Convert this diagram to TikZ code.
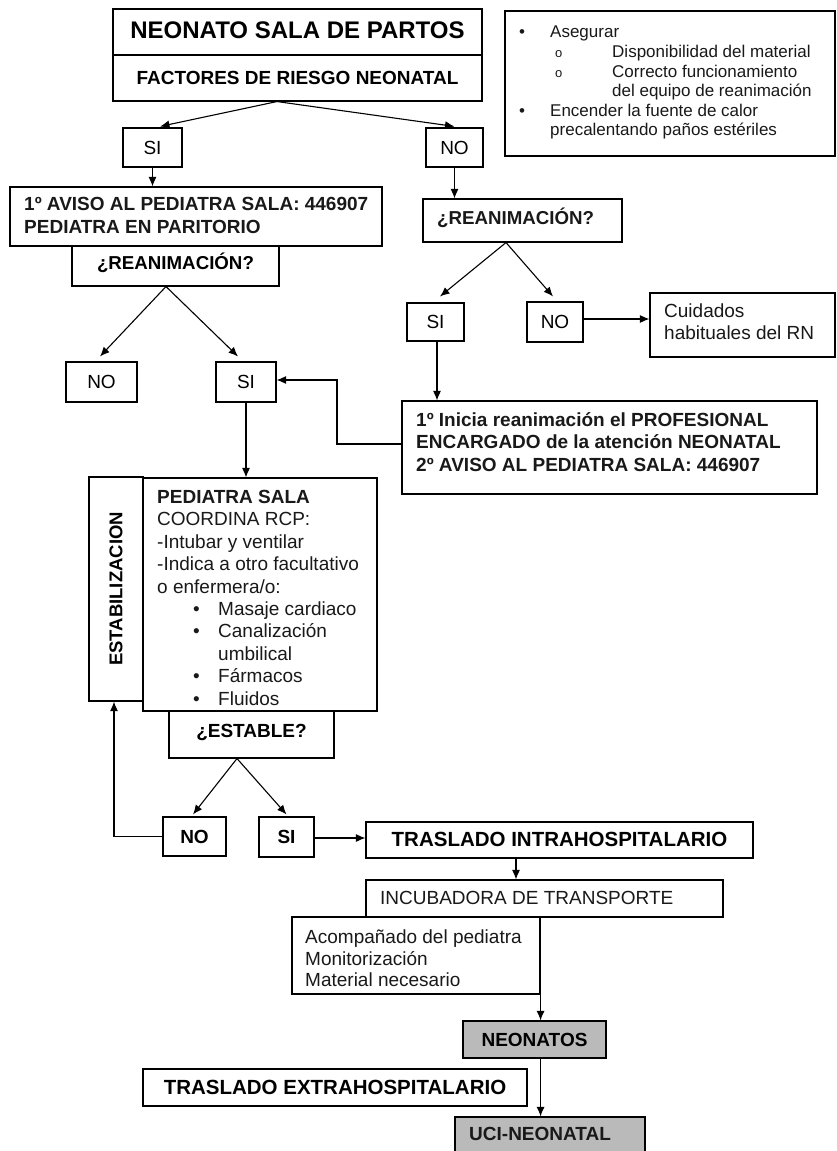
\documentclass[tikz,border=0pt]{standalone}
\usepackage{fontspec}
\setmainfont{Liberation Sans}
\usetikzlibrary{arrows.meta,calc}
\begin{document}
\begin{tikzpicture}[x=1pt,y=-1pt,
  bx/.style n args={2}{draw=black, line width=1.1pt, inner sep=0pt, minimum width=#1, minimum height=#2},
  capc/.style={text height=13.6pt, text depth=0pt},
  reg/.style={font=\fontsize{19}{22}\selectfont},
  bld/.style={font=\fontsize{19}{22}\selectfont\bfseries},
  txt/.style={inner sep=0pt, align=left, text=black!90},
  gr/.style={fill=black!27},
  arr/.style={-{Latex[length=9.5pt,width=8pt]}, line width=1.1pt}]
\useasboundingbox (0,0) rectangle (836,1151);
\fill[white] (0,0) rectangle (836,1151);
\clip (0,0) rectangle (836,1151);

% top
\node[bx={369pt}{46pt}, capc, font=\fontsize{24}{28}\selectfont\bfseries] (top) at (297.5,32) {NEONATO SALA DE PARTOS};
\node[bx={369pt}{46pt}, capc, bld] (risk) at (297.5,78) {FACTORES DE RIESGO NEONATAL};

% note box
\node[bx={330pt}{145pt}] (note) at (670,83.5) {};
\node[txt, anchor=north west, font=\fontsize{17}{19.6}\selectfont] (notetxt) at (519,26) {%
\makebox[31pt][l]{•}Asegurar\\
\hspace*{36pt}\makebox[57pt][l]{\fontsize{13}{13}\selectfont o}Disponibilidad del material\\
\hspace*{36pt}\makebox[57pt][l]{\fontsize{13}{13}\selectfont o}Correcto funcionamiento\\
\hspace*{93pt}del equipo de reanimación\\
\makebox[31pt][l]{•}Encender la fuente de calor\\
\hspace*{31pt}precalentando paños estériles};

% first decision
\node[bx={59pt}{39pt}, capc, reg] (si1) at (152.5,147.5) {SI};
\node[bx={57pt}{39pt}, capc, reg] (no1) at (454.5,147.5) {NO};

% left branch
\node[bx={372pt}{59pt}] (aviso) at (196,216.5) {};
\node[txt, anchor=north west, font=\fontsize{19}{23}\selectfont\bfseries] (avisotxt) at (24,197) {1º AVISO AL PEDIATRA SALA: 446907\\PEDIATRA EN PARITORIO};
\node[bx={207pt}{40pt}, capc, font=\fontsize{18.7}{22}\selectfont\bfseries] (reanL) at (175.5,266) {\raisebox{3pt}{¿REANIMACIÓN?}};
\node[bx={71pt}{40pt}, capc, reg] (noL) at (101.5,382) {NO};
\node[bx={60pt}{40pt}, capc, reg] (siL) at (246,382) {SI};

% right branch
\node[bx={199pt}{43pt}] (reanR) at (522.5,220.5) {};
\node[txt, anchor=base west, font=\fontsize{18.7}{22}\selectfont\bfseries] (reanRtxt) at (437,224.5) {¿REANIMACIÓN?};
\node[bx={57pt}{38pt}, capc, reg] (siR) at (435.5,322) {SI};
\node[bx={56pt}{40pt}, capc, reg] (noR) at (555,322) {NO};
\node[bx={185pt}{64pt}] (cuid) at (742.5,325) {};
\node[txt, anchor=north west, font=\fontsize{19}{22}\selectfont] (cuidtxt) at (664,304) {Cuidados\\habituales del RN};
\node[bx={415pt}{93pt}] (inicia) at (609.5,447.5) {};
\node[txt, anchor=north west, font=\fontsize{19}{22.5}\selectfont\bfseries] (iniciatxt) at (416,412) {1º Inicia reanimación el PROFESIONAL\\ENCARGADO de la atención NEONATAL\\2º AVISO AL PEDIATRA SALA: 446907};

% stabilisation
\node[bx={54pt}{224pt}, font=\fontsize{18.5}{22}\selectfont\bfseries] (estab) at (116,589) {\rotatebox{90}{ESTABILIZACION}};
\node[bx={234pt}{233pt}] (ped) at (260,594.5) {};
\node[txt, anchor=north west, font=\fontsize{19}{22.4}\selectfont] (pedtxt) at (157,490) {%
\textbf{PEDIATRA SALA}\\
COORDINA RCP:\\
-Intubar y ventilar\\
-Indica a otro facultativo\\
o enfermera/o:\\
\hspace*{36pt}\makebox[25pt][l]{•}Masaje cardiaco\\
\hspace*{36pt}\makebox[25pt][l]{•}Canalización\\
\hspace*{61pt}umbilical\\
\hspace*{36pt}\makebox[25pt][l]{•}Fármacos\\
\hspace*{36pt}\makebox[25pt][l]{•}Fluidos};
\node[bx={165pt}{47pt}, capc, bld] (estable) at (251.5,734.5) {\raisebox{4pt}{¿ESTABLE?}};
\node[bx={63pt}{39pt}, capc, bld] (noB) at (194.5,836.5) {NO};
\node[bx={55pt}{40pt}, capc, bld] (siB) at (286.5,837) {SI};

% transport
\node[bx={387pt}{36pt}, capc, font=\fontsize{20.5}{24}\selectfont\bfseries] (intra) at (559.5,840) {TRASLADO INTRAHOSPITALARIO};
\node[bx={248pt}{77pt}] (acomp) at (416,955.5) {};
\node[bx={357pt}{37pt}, fill=white] (incu) at (544.5,898.5) {};
\node[txt, anchor=west, font=\fontsize{19}{22}\selectfont] (incutxt) at (380,898) {INCUBADORA DE TRANSPORTE};
\node[txt, anchor=north west, font=\fontsize{19}{21.5}\selectfont] (acomptxt) at (305,930) {Acompañado del pediatra\\Monitorización\\Material necesario};
\node[bx={143pt}{37pt}, gr, capc, bld] (neon) at (534.5,1039.5) {NEONATOS};
\node[bx={384pt}{37pt}, capc, font=\fontsize{20.5}{24}\selectfont\bfseries] (extra) at (335,1087.5) {TRASLADO EXTRAHOSPITALARIO};
\node[bx={190pt}{46pt}, gr] (uci) at (550,1140) {};
\node[txt, anchor=west, font=\fontsize{19}{22}\selectfont\bfseries] (ucitxt) at (469,1134) {UCI-NEONATAL};

% connectors
\draw[arr] ([xshift=-20.5pt]risk.south) -- ([xshift=7.5pt,yshift=1pt]si1.north);
\draw[arr] ([xshift=-20.5pt]risk.south) -- ([yshift=1pt]no1.north);
\draw[arr] (si1.south) -- (si1.south |- aviso.north);
\draw[arr] (no1.south) -- (no1.south |- reanR.north);
\draw[arr] ([xshift=-9.5pt]reanL.south) -- ([xshift=-1.5pt,yshift=5pt]noL.north);
\draw[arr] ([xshift=-9.5pt]reanL.south) -- ([xshift=-8pt,yshift=5pt]siL.north);
\draw[arr] (siL.south) -- (siL.south |- ped.north);
\coordinate (fb) at (337,380);
\draw[arr] ([yshift=3.5pt]inicia.west) -| (fb) -- (fb -| siL.east);
\draw[arr] ([xshift=-16.5pt]reanR.south) -- ([xshift=4.5pt,yshift=6pt]siR.north);
\draw[arr] ([xshift=-16.5pt]reanR.south) -- ([xshift=-2pt,yshift=5pt]noR.north);
\draw[arr] ([yshift=3pt]noR.east) -- ([yshift=3pt]noR.east -| cuid.west);
\draw[arr] ([xshift=1.5pt]siR.south) -- ([xshift=1.5pt]siR.south |- inicia.north);
\draw[arr] ([xshift=-14.5pt]estable.south) -- ([xshift=-1.5pt,yshift=2pt]noB.north);
\draw[arr] ([xshift=-14.5pt]estable.south) -- ([yshift=2pt]siB.north);
\draw[arr] (noB.west) -| ([xshift=-2pt]estab.south);
\draw[arr] ([yshift=-1pt]siB.east) -- ([yshift=-1pt]siB.east -| intra.west);
\draw[arr] ([xshift=-43.5pt]intra.south) -- ([xshift=-43.5pt]intra.south |- incu.north);
\draw[arr] (acomp.south east) -- (acomp.south east |- neon.north);
\draw[arr] (acomp.south east |- neon.south) -- (acomp.south east |- uci.north);
\end{tikzpicture}
\end{document}
